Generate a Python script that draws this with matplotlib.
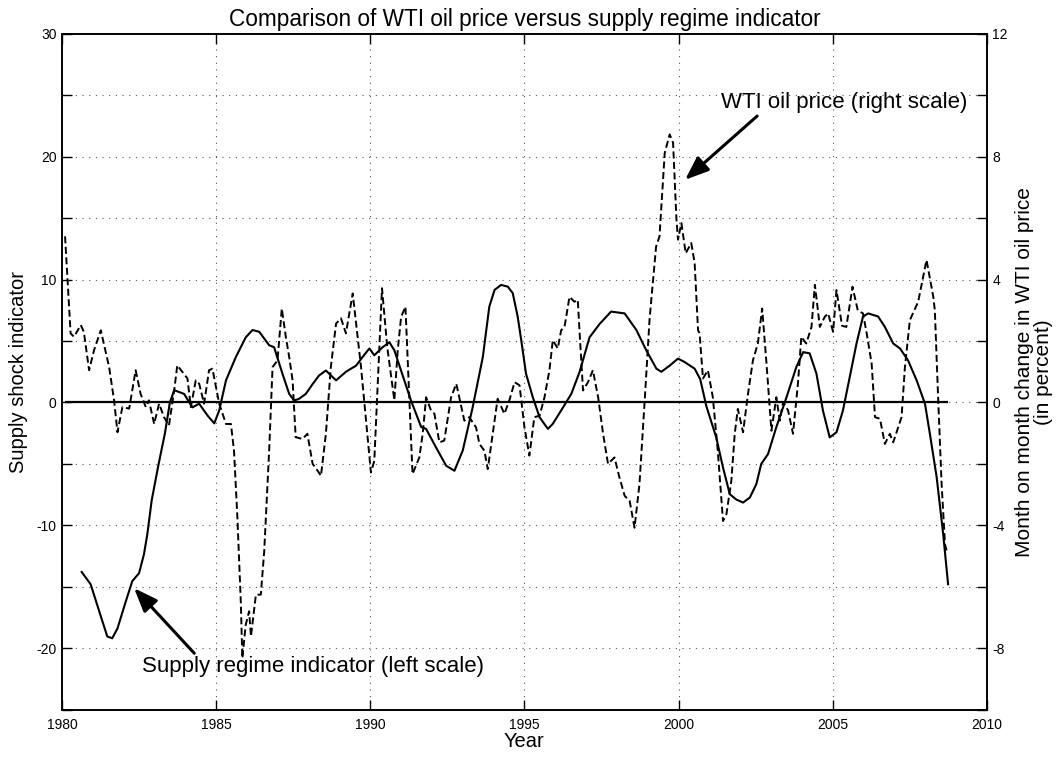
import matplotlib
matplotlib.use("Agg")
import matplotlib.pyplot as plt
import numpy as np

plt.rcParams['font.family'] = ['Liberation Sans', 'DejaVu Sans']

# Supply regime indicator (left scale)
supply_years = [1980.64, 1980.93, 1981.31, 1981.47, 1981.63, 1981.80, 1982.07, 1982.28, 1982.50,
                1982.66, 1982.77, 1982.91, 1983.12, 1983.34, 1983.50, 1983.64, 1983.96, 1984.23,
                1984.45, 1984.72, 1984.94, 1985.10, 1985.32, 1985.64, 1985.96, 1986.18, 1986.40,
                1986.72, 1986.88, 1987.15, 1987.37, 1987.53, 1987.69, 1987.91, 1988.13, 1988.34,
                1988.56, 1988.89, 1989.21, 1989.54, 1989.75, 1989.97, 1990.13, 1990.40, 1990.62,
                1990.78, 1991.05, 1991.32, 1991.65, 1991.81, 1992.13, 1992.46, 1992.73, 1993.00,
                1993.32, 1993.65, 1993.86, 1994.03, 1994.24, 1994.46, 1994.62, 1994.78, 1994.90,
                1995.05, 1995.27, 1995.49, 1995.76, 1995.92, 1996.19, 1996.52, 1996.79, 1997.11,
                1997.44, 1997.81, 1998.25, 1998.63, 1998.95, 1999.28, 1999.44, 1999.71, 1999.98,
                2000.19, 2000.52, 2000.70, 2000.90, 2001.22, 2001.44, 2001.66, 2001.87, 2002.09,
                2002.31, 2002.52, 2002.68, 2002.90, 2003.17, 2003.50, 2003.82, 2004.04, 2004.25,
                2004.47, 2004.68, 2004.90, 2005.12, 2005.33, 2005.55, 2005.77, 2005.98, 2006.15,
                2006.47, 2006.69, 2006.96, 2007.18, 2007.44, 2007.72, 2007.99, 2008.15, 2008.37,
                2008.58, 2008.74]
supply_values = [-13.8, -14.8, -17.8, -19.05, -19.2, -18.4, -16.2, -14.55, -13.9,
                 -12.35, -10.7, -7.97, -5.2, -2.5, -0.0, 1.0, 0.7, -0.4,
                 -0.1, -1.06, -1.7, -0.65, 1.8, 3.7, 5.3, 5.9, 5.75,
                 4.66, 4.5, 2.35, 0.7, 0.16, 0.3, 0.7, 1.5, 2.2,
                 2.6, 1.8, 2.5, 3.0, 3.7, 4.4, 3.84, 4.5, 4.9,
                 4.25, 2.2, 0.16, -2.0, -2.15, -3.65, -5.15, -5.56, -3.9,
                 -0.4, 3.7, 7.8, 9.16, 9.57, 9.43, 8.9, 7.0, 5.0,
                 2.35, 0.43, -1.2, -2.15, -1.74, -0.65, 0.7, 2.5, 5.3,
                 6.4, 7.4, 7.25, 5.9, 4.25, 2.75, 2.5, 3.0, 3.57,
                 3.3, 2.75, 1.9, -0.3, -2.84, -5.3, -7.47, -7.9, -8.15,
                 -7.74, -6.65, -5.0, -4.2, -2.0, 0.43, 2.9, 4.1, 4.0,
                 2.35, -0.65, -2.84, -2.43, -0.65, 2.07, 4.8, 7.0, 7.25,
                 7.0, 6.15, 4.8, 4.4, 3.43, 1.8, -0.1, -2.56, -6.1,
                 -10.7, -14.8]

# WTI oil price month-on-month change, % (right scale)
wti_years = [1980.10, 1980.28, 1980.39, 1980.61, 1980.71, 1980.88, 1981.04, 1981.26, 1981.53,
             1981.69, 1981.80, 1981.96, 1982.18, 1982.39, 1982.55, 1982.72, 1982.82, 1982.99,
             1983.15, 1983.31, 1983.47, 1983.64, 1983.74, 1983.91, 1984.07, 1984.18, 1984.34,
             1984.45, 1984.61, 1984.77, 1984.88, 1985.10, 1985.32, 1985.48, 1985.58, 1985.69,
             1985.80, 1985.85, 1985.96, 1986.07, 1986.13, 1986.29, 1986.45, 1986.56, 1986.72,
             1986.83, 1986.99, 1987.13, 1987.26, 1987.37, 1987.48, 1987.58, 1987.80, 1987.96,
             1988.13, 1988.29, 1988.40, 1988.56, 1988.72, 1988.89, 1989.05, 1989.21, 1989.43,
             1989.70, 1990.02, 1990.13, 1990.29, 1990.38, 1990.55, 1990.78, 1990.89, 1991.00,
             1991.14, 1991.27, 1991.37, 1991.59, 1991.70, 1991.81, 1991.97, 1992.08, 1992.24,
             1992.40, 1992.62, 1992.79, 1993.05, 1993.21, 1993.43, 1993.54, 1993.70, 1993.81,
             1993.97, 1994.13, 1994.35, 1994.51, 1994.68, 1994.84, 1995.00, 1995.16, 1995.32,
             1995.49, 1995.65, 1995.81, 1995.92, 1996.08, 1996.19, 1996.30, 1996.46, 1996.62,
             1996.73, 1996.79, 1996.90, 1997.06, 1997.22, 1997.39, 1997.55, 1997.71, 1997.92,
             1998.08, 1998.25, 1998.41, 1998.57, 1998.73, 1998.90, 1999.06, 1999.27, 1999.38,
             1999.55, 1999.71, 1999.82, 1999.93, 1999.98, 2000.09, 2000.23, 2000.41, 2000.52,
             2000.63, 2000.68, 2000.79, 2000.95, 2001.11, 2001.27, 2001.44, 2001.55, 2001.71,
             2001.82, 2001.92, 2002.09, 2002.25, 2002.41, 2002.57, 2002.71, 2002.85, 2003.01,
             2003.17, 2003.28, 2003.39, 2003.55, 2003.71, 2003.87, 2003.98, 2004.14, 2004.31,
             2004.42, 2004.58, 2004.74, 2004.85, 2005.01, 2005.12, 2005.30, 2005.44, 2005.64,
             2005.81, 2005.98, 2006.10, 2006.26, 2006.37, 2006.53, 2006.69, 2006.85, 2006.96,
             2007.23, 2007.34, 2007.50, 2007.77, 2008.04, 2008.26, 2008.31, 2008.42, 2008.53,
             2008.64, 2008.71]
wti_values = [5.41, 2.25, 2.14, 2.52, 2.3, 1.05, 1.7, 2.35, 1.15,
              0.07, -0.97, -0.15, -0.2, 1.05, 0.28, -0.15, 0.07, -0.7,
              -0.04, -0.48, -0.75, 0.39, 1.21, 0.99, 0.78, -0.15, 0.72,
              0.61, -0.04, 1.05, 1.1, -0.04, -0.7, -0.7, -1.57, -3.75,
              -6.48, -8.33, -7.24, -6.8, -7.62, -6.26, -6.26, -4.84, -1.57,
              1.15, 1.37, 3.06, 2.14, 1.48, 0.72, -1.13, -1.19, -1.02,
              -2.0, -2.22, -2.39, -1.02, 1.15, 2.57, 2.74, 2.25, 3.55,
              1.15, -2.28, -1.9, 1.7, 3.72, 1.8, 0.07, 1.7, 2.79,
              3.12, 0.07, -2.33, -1.79, -1.02, 0.17, -0.26, -0.37, -1.3,
              -1.24, 0.17, 0.61, -0.59, -0.48, -0.81, -1.35, -1.57, -2.17,
              -1.02, 0.12, -0.37, 0.07, 0.66, 0.56, -0.81, -1.73, -0.48,
              -0.43, 0.17, 1.05, 2.03, 1.76, 2.35, 2.46, 3.44, 3.28,
              3.34, 2.25, 0.39, 0.66, 1.05, 0.17, -1.02, -2.0, -1.79,
              -2.44, -3.04, -3.2, -4.08, -2.66, 0.07, 2.74, 5.08, 5.41,
              8.13, 8.73, 8.46, 5.95, 5.3, 5.84, 4.86, 5.19, 4.54,
              2.35, 2.25, 0.78, 1.05, 0.17, -1.57, -3.86, -3.64, -2.55,
              -1.02, -0.21, -0.97, 0.28, 1.37, 1.92, 3.06, 1.27, -0.92,
              0.17, -0.59, 0.01, -0.26, -1.02, 0.61, 2.14, 1.92, 2.46,
              3.83, 2.46, 2.79, 2.9, 2.3, 3.66, 2.5, 2.46, 3.77,
              3.0, 2.9, 2.25, 1.27, -0.48, -0.53, -1.35, -1.02, -1.3,
              -0.48, 1.15, 2.68, 3.28, 4.64, 3.44, 3.0, 0.07, -2.66,
              -4.62, -4.9]

left_ticks = [-25, -20, -15, -10, -5, 0, 5, 10, 15, 20, 25, 30]
left_labels = ['', '-20', '', '-10', '', '0', '', '10', '', '20', '', '30']
right_ticks = [-10, -8, -6, -4, -2, 0, 2, 4, 6, 8, 10, 12]
right_labels = ['', '-8', '', '-4', '', '0', '', '4', '', '8', '', '12']
x_ticks = [1980, 1985, 1990, 1995, 2000, 2005, 2010]

fig = plt.figure(figsize=(10.61, 7.57), dpi=100)
ax = fig.add_axes([0.0584, 0.0627, 0.8718, 0.8924])
ax2 = ax.twinx()

ax.set_xlim(1980, 2010)
ax.set_ylim(-25, 30)
ax2.set_ylim(-10, 12)

grid_kw = dict(color='#555555', linestyle=(0, (1, 5)), linewidth=0.8)
for t in left_ticks[1:-1]:
    ax.axhline(t, zorder=0, **grid_kw)
for t in x_ticks[1:-1]:
    ax.axvline(t, zorder=0, **grid_kw)

all_years = supply_years + wti_years
ax.hlines(0, min(all_years), max(all_years), color='black', linewidth=1.6, zorder=2)
ax.plot(supply_years, supply_values, color='black', linewidth=1.5, zorder=3)
ax2.plot(wti_years, wti_values, color='black', linewidth=1.4, dashes=(3.6, 1.8), zorder=3)

ax.set_xticks(x_ticks)
ax.set_xticklabels([str(t) for t in x_ticks])
ax.set_yticks(left_ticks)
ax.set_yticklabels(left_labels)
ax2.set_yticks(right_ticks)
ax2.set_yticklabels(right_labels)

ax.tick_params(axis='x', direction='in', length=7, width=1, top=True, labelsize=10, pad=6)
ax.tick_params(axis='y', direction='in', length=7, width=1, labelsize=10, pad=4)
ax2.tick_params(axis='y', direction='in', length=7, width=1, labelsize=10, pad=4)
for a in (ax, ax2):
    for s in a.spines.values():
        s.set_linewidth(1.2)

ax.set_title('Comparison of WTI oil price versus supply regime indicator', fontsize=16.3, pad=6)
ax.set_xlabel('Year', fontsize=14.5, labelpad=0)
ax.set_ylabel('Supply shock indicator', fontsize=14.5, labelpad=6)
ax2.set_ylabel('Month on month change in WTI oil price\n(in percent)', fontsize=15,
               rotation=90, labelpad=5, linespacing=1.0)

arrow_kw = dict(arrowstyle='-|>,head_length=0.9,head_width=0.35', color='black', lw=2.2,
                shrinkA=0, shrinkB=0)
ax.annotate('WTI oil price (right scale)', xy=(2000.21, 18.13), xytext=(2001.37, 24.4),
            fontsize=16, va='center', ha='left', zorder=5, annotation_clip=False,
            arrowprops=dict(**arrow_kw, relpos=(0.16, 0.0)))
ax.annotate('Supply regime indicator (left scale)', xy=(1982.34, -15.12), xytext=(1982.6, -21.5),
            fontsize=16, va='center', ha='left', zorder=5, annotation_clip=False,
            arrowprops=dict(**arrow_kw, relpos=(0.16, 1.0)))

fig.savefig('out.png', dpi=100)
